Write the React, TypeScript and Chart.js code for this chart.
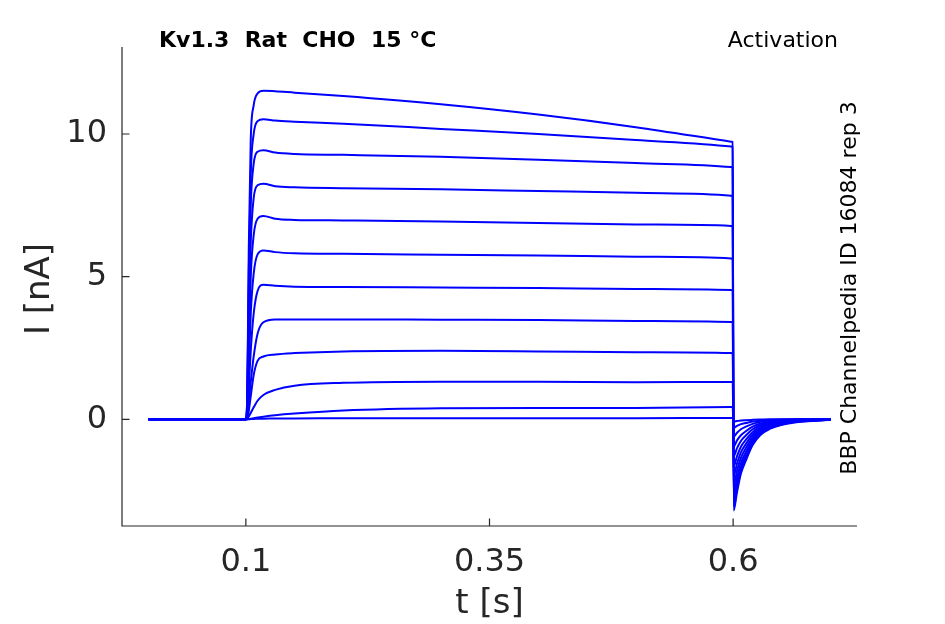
import React, { useEffect, useRef } from 'react';
import { Chart, registerables } from 'chart.js';

Chart.register(...registerables);

// sample times [s], shared by all sweeps
const times = [
  0, 0.1, 0.1015, 0.103, 0.105, 0.108, 0.112, 0.118, 0.13, 0.15, 0.2, 0.3, 0.4, 0.5, 0.598, 0.599, 0.5995,
  0.6005, 0.604, 0.608, 0.613, 0.62, 0.628, 0.638, 0.65, 0.665, 0.7,
];

// current [nA] of each sweep (highest step first)
const sweep1 = [0, 0, 1.0, 6.0, 9.8, 11.0, 11.42, 11.52, 11.5, 11.45, 11.33, 11.04, 10.68, 10.24, 9.73, 9.725, 9.72, -3.2, -2.55, -1.9, -1.45, -0.9, -0.55, -0.33, -0.19, -0.1, -0.02];
const sweep2 = [0, 0, 0.9, 5.2, 8.6, 10.0, 10.45, 10.52, 10.47, 10.43, 10.36, 10.18, 10.0, 9.79, 9.56, 9.555, 9.55, -3.05, -2.42, -1.8, -1.37, -0.85, -0.52, -0.31, -0.18, -0.09, -0.02];
const sweep3 = [0, 0, 0.8, 4.4, 7.5, 8.95, 9.38, 9.43, 9.35, 9.3, 9.27, 9.2, 9.1, 8.98, 8.84, 8.835, 8.83, -2.85, -2.25, -1.68, -1.27, -0.79, -0.48, -0.28, -0.16, -0.08, -0.02];
const sweep4 = [0, 0, 0.6, 3.5, 6.2, 7.75, 8.2, 8.26, 8.17, 8.13, 8.1, 8.06, 8.0, 7.94, 7.84, 7.835, 7.83, -2.6, -2.05, -1.53, -1.15, -0.72, -0.43, -0.25, -0.14, -0.07, -0.01];
const sweep5 = [0, 0, 0.45, 2.6, 5.0, 6.45, 7.03, 7.13, 7.03, 6.99, 6.97, 6.93, 6.88, 6.83, 6.78, 6.775, 6.77, -2.3, -1.8, -1.35, -1.01, -0.63, -0.38, -0.22, -0.12, -0.06, -0.01];
const sweep6 = [0, 0, 0.3, 1.8, 3.7, 5.1, 5.78, 5.92, 5.86, 5.82, 5.8, 5.77, 5.74, 5.7, 5.64, 5.635, 5.63, -1.98, -1.55, -1.16, -0.87, -0.54, -0.33, -0.19, -0.1, -0.05, -0.01];
const sweep7 = [0, 0, 0.2, 1.1, 2.4, 3.7, 4.5, 4.72, 4.68, 4.65, 4.64, 4.62, 4.6, 4.57, 4.53, 4.525, 4.52, -1.65, -1.29, -0.96, -0.72, -0.45, -0.27, -0.15, -0.08, -0.04, 0];
const sweep8 = [0, 0, 0.1, 0.6, 1.3, 2.2, 3.0, 3.4, 3.5, 3.5, 3.5, 3.49, 3.48, 3.45, 3.41, 3.405, 3.4, -1.3, -1.01, -0.76, -0.57, -0.35, -0.21, -0.12, -0.06, -0.03, 0];
const sweep9 = [0, 0, 0.05, 0.3, 0.8, 1.55, 2.05, 2.2, 2.27, 2.32, 2.38, 2.4, 2.38, 2.35, 2.32, 2.315, 2.31, -0.95, -0.74, -0.56, -0.42, -0.26, -0.15, -0.08, -0.04, -0.02, 0];
const sweep10 = [0, 0, 0.02, 0.1, 0.22, 0.42, 0.65, 0.85, 1.03, 1.18, 1.28, 1.32, 1.32, 1.3, 1.31, 1.31, 1.31, -0.6, -0.47, -0.35, -0.26, -0.16, -0.09, -0.05, -0.03, -0.01, 0];
const sweep11 = [0, 0, 0, 0.01, 0.02, 0.04, 0.06, 0.09, 0.14, 0.2, 0.31, 0.39, 0.4, 0.4, 0.43, 0.43, 0.43, -0.3, -0.23, -0.17, -0.13, -0.08, -0.05, -0.03, -0.01, 0, 0];
const sweep12 = [0, 0, 0, 0, 0.01, 0.01, 0.02, 0.02, 0.03, 0.03, 0.04, 0.04, 0.04, 0.04, 0.05, 0.05, 0.05, -0.08, -0.06, -0.04, -0.03, -0.02, -0.01, 0, 0, 0, 0];

const sweeps = [sweep1, sweep2, sweep3, sweep4, sweep5, sweep6, sweep7, sweep8, sweep9, sweep10, sweep11, sweep12];

const xTicks = [0.1, 0.35, 0.6];
const yTicks = [0, 5, 10];

const AXIS = '#262626';
const FONT = '"DejaVu Sans", sans-serif';

const decorations = {
  id: 'decorations',
  afterDraw(chart: Chart) {
    const { ctx, chartArea } = chart;
    const { left, right, top, bottom } = chartArea;
    const xs = chart.scales.x;
    const ys = chart.scales.y;
    ctx.save();

    // axis lines + inward ticks
    ctx.strokeStyle = AXIS;
    ctx.lineWidth = 1.2;
    ctx.beginPath();
    ctx.moveTo(left, top);
    ctx.lineTo(left, bottom);
    ctx.lineTo(right, bottom);
    xTicks.forEach((v) => {
      const px = xs.getPixelForValue(v);
      ctx.moveTo(px, bottom);
      ctx.lineTo(px, bottom - 7.5);
    });
    yTicks.forEach((v) => {
      const py = ys.getPixelForValue(v);
      ctx.moveTo(left, py);
      ctx.lineTo(left + 7.5, py);
    });
    ctx.stroke();

    ctx.fillStyle = AXIS;
    ctx.textAlign = 'center';
    ctx.textBaseline = 'alphabetic';
    ctx.font = `34px ${FONT}`;
    ctx.fillText('t [s]', (left + right) / 2, 613);

    ctx.save();
    ctx.translate(40, 289);
    ctx.rotate(-Math.PI / 2);
    ctx.textBaseline = 'middle';
    ctx.fillText('I [nA]', 0, 0);
    ctx.restore();

    ctx.fillStyle = '#000000';
    ctx.textAlign = 'left';
    ctx.font = `bold 22px ${FONT}`;
    ctx.fillText('Kv1.3  Rat  CHO  15 °C', 159, 47);

    ctx.textAlign = 'right';
    ctx.font = `22px ${FONT}`;
    ctx.fillText('Activation', 838, 47);

    ctx.save();
    ctx.translate(856, 288);
    ctx.rotate(-Math.PI / 2);
    ctx.textAlign = 'center';
    ctx.fillText('BBP Channelpedia ID 16084 rep 3', 0, 0);
    ctx.restore();

    ctx.restore();
  },
};

export default function App() {
  const canvasRef = useRef<HTMLCanvasElement>(null);
  const chartRef = useRef<Chart | null>(null);

  useEffect(() => {
    if (!canvasRef.current) return;
    const ctx = canvasRef.current.getContext('2d');
    if (!ctx) return;
    if (chartRef.current) chartRef.current.destroy();

    chartRef.current = new Chart(ctx, {
      type: 'line',
      data: {
        datasets: sweeps.map((values) => ({
          data: values.map((v, i) => ({ x: times[i], y: v })),
          borderColor: '#0000ff',
          borderWidth: 2,
          borderJoinStyle: 'round' as const,
          pointRadius: 0,
          fill: false,
          cubicInterpolationMode: 'monotone' as const,
        })),
      },
      options: {
        responsive: true,
        maintainAspectRatio: false,
        animation: false,
        layout: { padding: { top: 47, right: 88, left: 0, bottom: 0 } },
        plugins: { legend: { display: false }, tooltip: { enabled: false } },
        scales: {
          x: {
            type: 'linear',
            min: -0.0271,
            max: 0.7271,
            afterBuildTicks: (s) => {
              s.ticks = xTicks.map((value) => ({ value }));
            },
            afterFit: (s) => {
              s.height = 98;
            },
            ticks: {
              font: { family: FONT, size: 32 },
              color: AXIS,
              padding: 9,
              maxRotation: 0,
              autoSkip: false,
              callback: (v) => String(v),
            },
            grid: { display: false },
            border: { display: false },
          },
          y: {
            min: -3.74,
            max: 13.05,
            afterBuildTicks: (s) => {
              s.ticks = yTicks.map((value) => ({ value }));
            },
            afterFit: (s) => {
              s.width = 122;
            },
            ticks: {
              font: { family: FONT, size: 32 },
              color: AXIS,
              padding: 7,
              callback: (v) => String(v),
            },
            grid: { display: false },
            border: { display: false },
          },
        },
      },
      plugins: [decorations],
    });

    return () => chartRef.current?.destroy();
  }, []);

  return (
    <div style={{ position: 'absolute', left: 0, top: 0, width: 945, height: 624, background: '#fff' }}>
      <canvas ref={canvasRef}></canvas>
    </div>
  );
}
